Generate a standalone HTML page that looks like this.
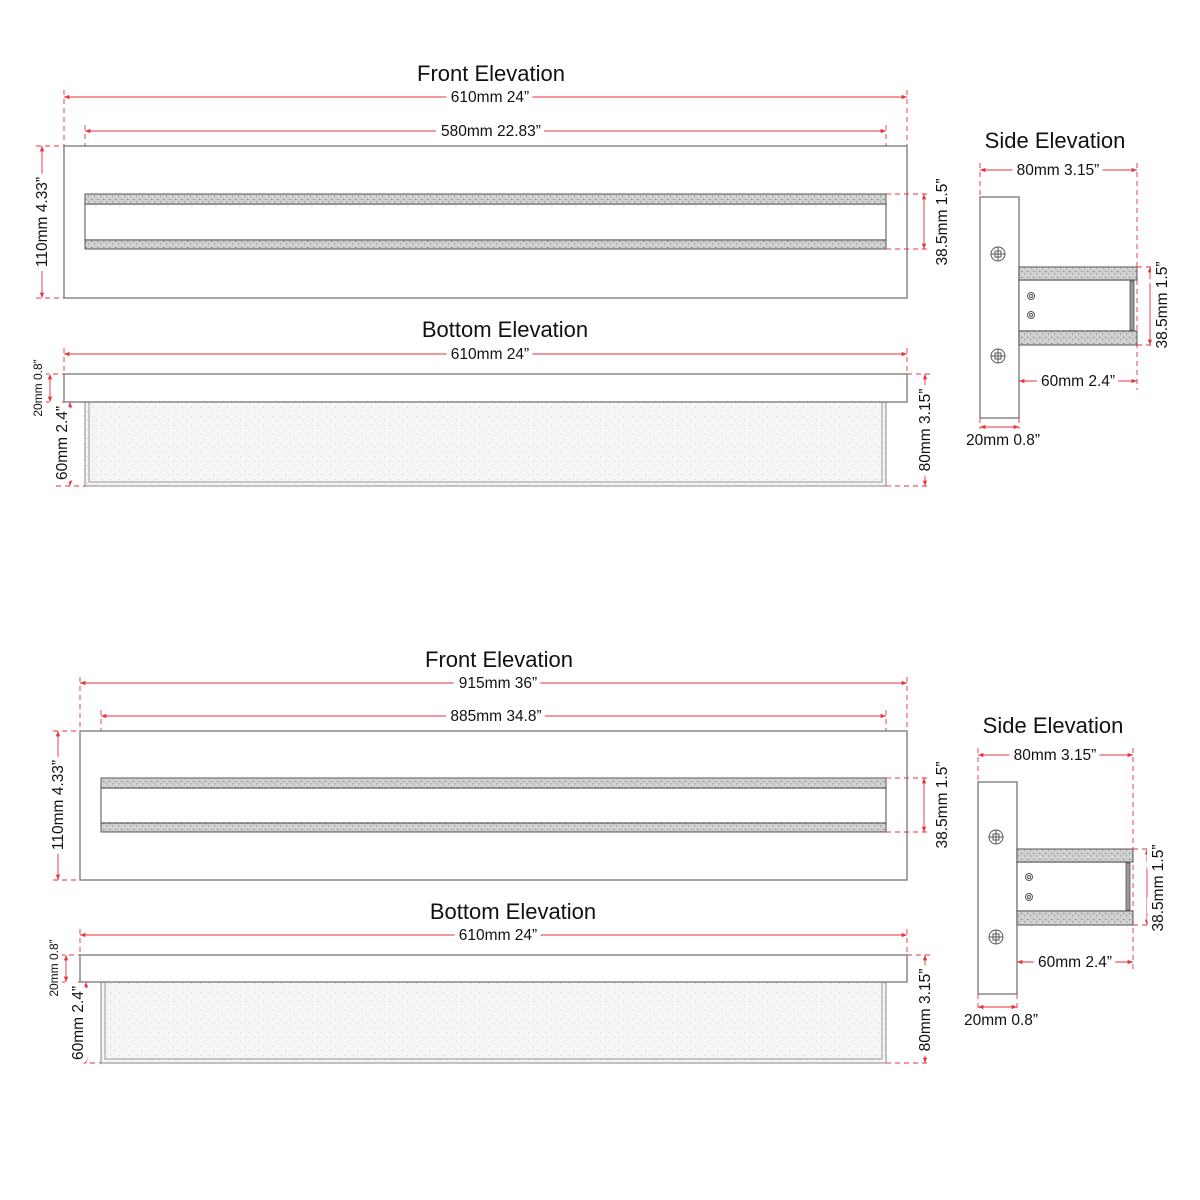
<!DOCTYPE html>
<html><head><meta charset="utf-8"><style>
html,body{margin:0;padding:0;background:#fff}
svg{display:block}
text{font-family:"Liberation Sans",sans-serif;fill:#111}
.t{font-size:22px;text-anchor:middle}
.d{font-size:15.5px;text-anchor:middle;paint-order:stroke;stroke:#fff;stroke-width:10px}
.ds{font-size:12px;text-anchor:middle;paint-order:stroke;stroke:#fff;stroke-width:8px}
.r{stroke:#e8323c;stroke-width:.9;fill:none}
.e{stroke:#e8323c;stroke-width:.9;fill:none;stroke-dasharray:5 4}
.g{stroke:#777;stroke-width:1.3;fill:#fff}
.s{stroke:#555;stroke-width:1;fill:url(#sp)}
.sb{stroke:#888;stroke-width:1;fill:url(#sp2)}
</style></head><body>
<svg width="1200" height="1200" viewBox="0 0 1200 1200" xmlns="http://www.w3.org/2000/svg">
<defs>
<pattern id="sp" width="6" height="6" patternUnits="userSpaceOnUse"><rect width="6" height="6" fill="#cfcfcf"/><rect x="1" y="1" width="1.5" height="1" fill="#888"/><rect x="4" y="3" width="1" height="1.5" fill="#999"/><rect x="2" y="4" width="1" height="1" fill="#eee"/></pattern>
<pattern id="sp2" width="9" height="9" patternUnits="userSpaceOnUse"><rect width="9" height="9" fill="#f5f5f5"/><rect x="2" y="2" width="1" height="1" fill="#c8c8c8"/><rect x="6" y="6" width="1" height="1" fill="#d0d0d0"/></pattern>
<marker id="a" viewBox="0 0 10 10" refX="10" refY="5" markerWidth="6" markerHeight="6" orient="auto-start-reverse"><path d="M0,1 L10,5 L0,9z" fill="#e8323c"/></marker>
</defs>

<!-- ===== SET 1 ===== -->
<text class="t" x="491" y="81">Front Elevation</text>
<line class="e" x1="64" y1="90" x2="64" y2="146"/><line class="e" x1="907" y1="90" x2="907" y2="146"/>
<line class="r" x1="64" y1="97" x2="907" y2="97" marker-start="url(#a)" marker-end="url(#a)"/>
<text class="d" x="490" y="102">610mm 24”</text>
<line class="e" x1="85" y1="125" x2="85" y2="194"/><line class="e" x1="886" y1="125" x2="886" y2="194"/>
<line class="r" x1="85" y1="131" x2="886" y2="131" marker-start="url(#a)" marker-end="url(#a)"/>
<text class="d" x="491" y="136">580mm 22.83”</text>
<rect class="g" x="64" y="146" width="843" height="152"/>
<rect class="g" x="85" y="204" width="801" height="36"/>
<rect class="s" x="85" y="194" width="801" height="10"/>
<rect class="s" x="85" y="240" width="801" height="9"/>
<line class="e" x1="36" y1="146" x2="64" y2="146"/><line class="e" x1="36" y1="298" x2="64" y2="298"/>
<line class="r" x1="42" y1="146" x2="42" y2="298" marker-start="url(#a)" marker-end="url(#a)"/>
<text class="d" transform="translate(47,222) rotate(-90)">110mm 4.33”</text>
<line class="e" x1="886" y1="194" x2="930" y2="194"/><line class="e" x1="886" y1="249" x2="930" y2="249"/>
<line class="r" x1="924" y1="194" x2="924" y2="249" marker-start="url(#a)" marker-end="url(#a)"/>
<text class="d" transform="translate(947,222) rotate(-90)">38.5mm 1.5”</text>

<text class="t" x="505" y="337">Bottom Elevation</text>
<line class="e" x1="64" y1="348" x2="64" y2="374"/><line class="e" x1="907" y1="348" x2="907" y2="374"/>
<line class="r" x1="64" y1="354" x2="907" y2="354" marker-start="url(#a)" marker-end="url(#a)"/>
<text class="d" x="490" y="359">610mm 24”</text>
<rect class="sb" x="85" y="402" width="801" height="84"/>
<rect x="89" y="402" width="793" height="80" fill="none" stroke="#999" stroke-width="1"/>
<rect class="g" x="64" y="374" width="843" height="28"/>
<line class="e" x1="44" y1="374" x2="64" y2="374"/><line class="e" x1="44" y1="402" x2="64" y2="402"/>
<line class="r" x1="50" y1="374" x2="50" y2="402" marker-start="url(#a)" marker-end="url(#a)"/>
<text class="ds" transform="translate(42,388) rotate(-90)">20mm 0.8”</text>
<line class="e" x1="56" y1="486" x2="86" y2="486"/>
<line class="r" x1="70" y1="402" x2="70" y2="486" marker-start="url(#a)" marker-end="url(#a)"/>
<text class="d" transform="translate(67,443) rotate(-90)">60mm 2.4”</text>
<line class="e" x1="907" y1="374" x2="930" y2="374"/><line class="e" x1="886" y1="486" x2="930" y2="486"/>
<line class="r" x1="925" y1="374" x2="925" y2="486" marker-start="url(#a)" marker-end="url(#a)"/>
<text class="d" transform="translate(930,430) rotate(-90)">80mm 3.15”</text>

<text class="t" x="1055" y="148">Side Elevation</text>
<line class="e" x1="980" y1="163" x2="980" y2="197"/><line class="e" x1="1137" y1="163" x2="1137" y2="390"/>
<line class="r" x1="980" y1="170" x2="1137" y2="170" marker-start="url(#a)" marker-end="url(#a)"/>
<text class="d" x="1058" y="175">80mm 3.15”</text>
<rect class="g" x="980" y="197" width="39" height="221"/>
<g stroke="#555" fill="none" stroke-width="1"><circle cx="998" cy="254" r="7"/><path d="M991,254h14M998,247v14M995,251h6v6h-6z"/><circle cx="998" cy="356" r="7"/><path d="M991,356h14M998,349v14M995,353h6v6h-6z"/></g>
<rect class="g" x="1019" y="280" width="114" height="51"/>
<rect x="1130" y="281" width="4" height="49" fill="#999" stroke="#555" stroke-width=".8"/>
<rect class="s" x="1019" y="267" width="118" height="13"/>
<rect class="s" x="1019" y="331" width="118" height="14"/>
<g stroke="#555" fill="none"><circle cx="1031" cy="296" r="3.5"/><circle cx="1031" cy="296" r="1.5"/><circle cx="1031" cy="315" r="3.5"/><circle cx="1031" cy="315" r="1.5"/></g>
<line class="e" x1="1137" y1="267" x2="1156" y2="267"/><line class="e" x1="1137" y1="345" x2="1156" y2="345"/>
<line class="r" x1="1150" y1="267" x2="1150" y2="345" marker-start="url(#a)" marker-end="url(#a)"/>
<text class="d" transform="translate(1167,305) rotate(-90)">38.5mm 1.5”</text>
<line class="r" x1="1019" y1="381" x2="1137" y2="381" marker-start="url(#a)" marker-end="url(#a)"/>
<text class="d" x="1078" y="386">60mm 2.4”</text>
<line class="e" x1="980" y1="418" x2="980" y2="432"/><line class="e" x1="1019" y1="418" x2="1019" y2="432"/>
<line class="r" x1="980" y1="427" x2="1019" y2="427" marker-start="url(#a)" marker-end="url(#a)"/>
<text class="d" x="1003" y="445">20mm 0.8”</text>

<!-- ===== SET 2 ===== -->
<text class="t" x="499" y="667">Front Elevation</text>
<line class="e" x1="80" y1="677" x2="80" y2="731"/><line class="e" x1="907" y1="677" x2="907" y2="731"/>
<line class="r" x1="80" y1="683" x2="907" y2="683" marker-start="url(#a)" marker-end="url(#a)"/>
<text class="d" x="498" y="688">915mm 36”</text>
<line class="e" x1="101" y1="710" x2="101" y2="778"/><line class="e" x1="886" y1="710" x2="886" y2="778"/>
<line class="r" x1="101" y1="716" x2="886" y2="716" marker-start="url(#a)" marker-end="url(#a)"/>
<text class="d" x="496" y="721">885mm 34.8”</text>
<rect class="g" x="80" y="731" width="827" height="149"/>
<rect class="g" x="101" y="788" width="785" height="35"/>
<rect class="s" x="101" y="778" width="785" height="10"/>
<rect class="s" x="101" y="823" width="785" height="9"/>
<line class="e" x1="53" y1="731" x2="80" y2="731"/><line class="e" x1="53" y1="880" x2="80" y2="880"/>
<line class="r" x1="58" y1="731" x2="58" y2="880" marker-start="url(#a)" marker-end="url(#a)"/>
<text class="d" transform="translate(63,805) rotate(-90)">110mm 4.33”</text>
<line class="e" x1="886" y1="778" x2="930" y2="778"/><line class="e" x1="886" y1="832" x2="930" y2="832"/>
<line class="r" x1="924" y1="778" x2="924" y2="832" marker-start="url(#a)" marker-end="url(#a)"/>
<text class="d" transform="translate(947,805) rotate(-90)">38.5mm 1.5”</text>

<text class="t" x="513" y="919">Bottom Elevation</text>
<line class="e" x1="80" y1="929" x2="80" y2="955"/><line class="e" x1="907" y1="929" x2="907" y2="955"/>
<line class="r" x1="80" y1="935" x2="907" y2="935" marker-start="url(#a)" marker-end="url(#a)"/>
<text class="d" x="498" y="940">610mm 24”</text>
<rect class="sb" x="101" y="982" width="785" height="81"/>
<rect x="105" y="982" width="777" height="77" fill="none" stroke="#999" stroke-width="1"/>
<rect class="g" x="80" y="955" width="827" height="27"/>
<line class="e" x1="60" y1="955" x2="80" y2="955"/><line class="e" x1="60" y1="982" x2="80" y2="982"/>
<line class="r" x1="66" y1="955" x2="66" y2="982" marker-start="url(#a)" marker-end="url(#a)"/>
<text class="ds" transform="translate(58,968) rotate(-90)">20mm 0.8”</text>
<line class="e" x1="72" y1="1063" x2="102" y2="1063"/>
<line class="r" x1="86" y1="982" x2="86" y2="1063" marker-start="url(#a)" marker-end="url(#a)"/>
<text class="d" transform="translate(83,1023) rotate(-90)">60mm 2.4”</text>
<line class="e" x1="907" y1="955" x2="930" y2="955"/><line class="e" x1="886" y1="1063" x2="930" y2="1063"/>
<line class="r" x1="925" y1="955" x2="925" y2="1063" marker-start="url(#a)" marker-end="url(#a)"/>
<text class="d" transform="translate(930,1010) rotate(-90)">80mm 3.15”</text>

<text class="t" x="1053" y="733">Side Elevation</text>
<line class="e" x1="978" y1="748" x2="978" y2="782"/><line class="e" x1="1133" y1="748" x2="1133" y2="970"/>
<line class="r" x1="978" y1="755" x2="1133" y2="755" marker-start="url(#a)" marker-end="url(#a)"/>
<text class="d" x="1055" y="760">80mm 3.15”</text>
<rect class="g" x="978" y="782" width="39" height="212"/>
<g stroke="#555" fill="none" stroke-width="1"><circle cx="996" cy="837" r="7"/><path d="M989,837h14M996,830v14M993,834h6v6h-6z"/><circle cx="996" cy="937" r="7"/><path d="M989,937h14M996,930v14M993,934h6v6h-6z"/></g>
<rect class="g" x="1017" y="862" width="112" height="49"/>
<rect x="1126" y="863" width="4" height="47" fill="#999" stroke="#555" stroke-width=".8"/>
<rect class="s" x="1017" y="849" width="116" height="13"/>
<rect class="s" x="1017" y="911" width="116" height="14"/>
<g stroke="#555" fill="none"><circle cx="1029" cy="877" r="3.5"/><circle cx="1029" cy="877" r="1.5"/><circle cx="1029" cy="897" r="3.5"/><circle cx="1029" cy="897" r="1.5"/></g>
<line class="e" x1="1133" y1="849" x2="1153" y2="849"/><line class="e" x1="1133" y1="925" x2="1153" y2="925"/>
<line class="r" x1="1147" y1="849" x2="1147" y2="925" marker-start="url(#a)" marker-end="url(#a)"/>
<text class="d" transform="translate(1163,888) rotate(-90)">38.5mm 1.5”</text>
<line class="r" x1="1017" y1="962" x2="1133" y2="962" marker-start="url(#a)" marker-end="url(#a)"/>
<text class="d" x="1075" y="967">60mm 2.4”</text>
<line class="e" x1="978" y1="994" x2="978" y2="1012"/><line class="e" x1="1017" y1="994" x2="1017" y2="1012"/>
<line class="r" x1="978" y1="1007" x2="1017" y2="1007" marker-start="url(#a)" marker-end="url(#a)"/>
<text class="d" x="1001" y="1025">20mm 0.8”</text>
</svg>
</body></html>
